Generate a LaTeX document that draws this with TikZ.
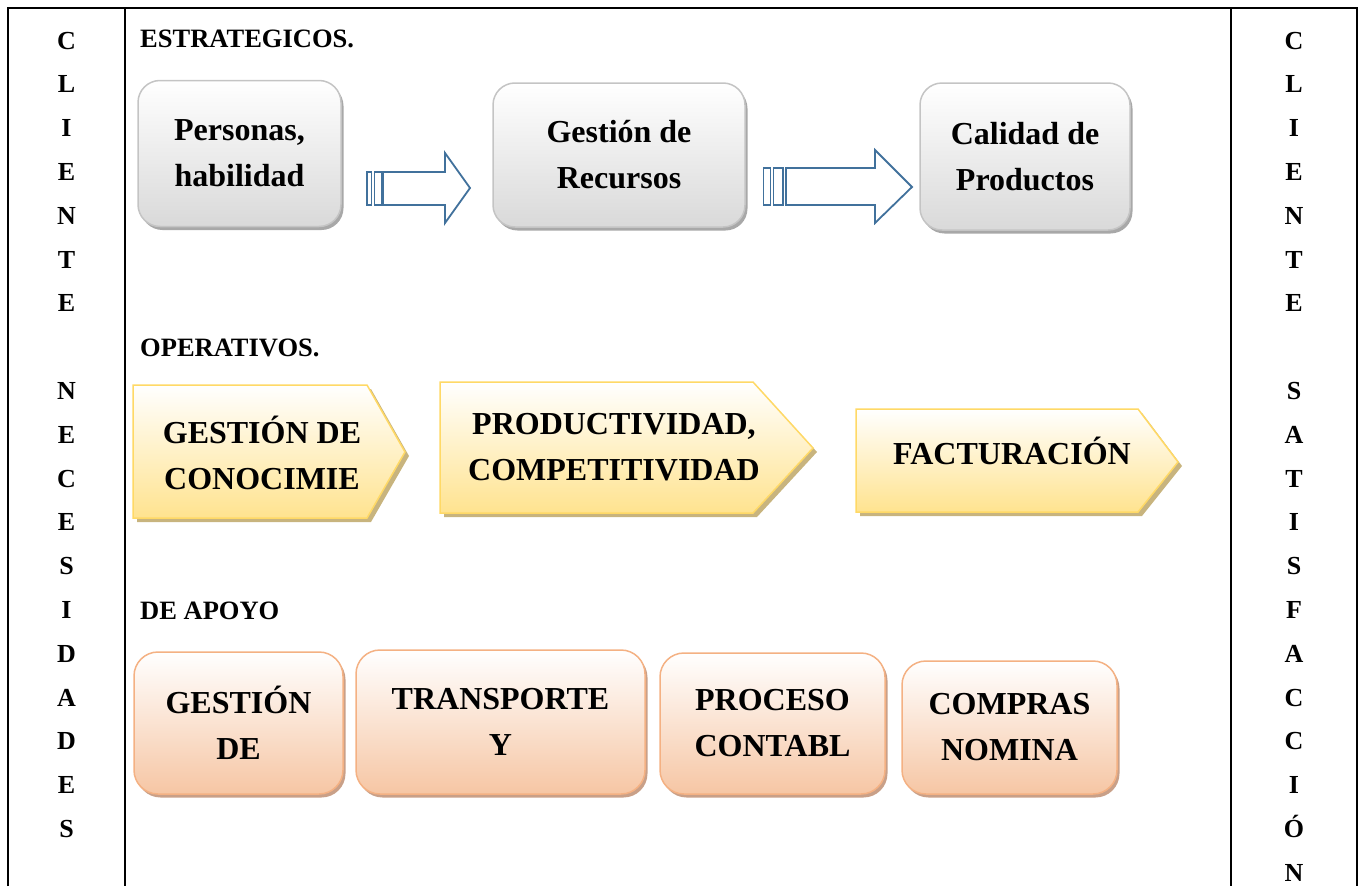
\documentclass[tikz,border=0pt]{standalone}
\usepackage{fontspec}
\setmainfont{Liberation Serif}
\usetikzlibrary{shadows}
\definecolor{grayline}{HTML}{C4C4C4}
\definecolor{graybot}{HTML}{D9D9D9}
\definecolor{grayshadow}{HTML}{A8A8A8}
\definecolor{yelline}{HTML}{FFD966}
\definecolor{yelbot}{HTML}{FFE38F}
\definecolor{yelshadow}{HTML}{C8B47E}
\definecolor{salline}{HTML}{F4B183}
\definecolor{salbot}{HTML}{F6C6A4}
\definecolor{salshadow}{HTML}{C9A088}
\definecolor{arrowblue}{HTML}{41719C}
\begin{document}
\begin{tikzpicture}[x=1pt,y=-1pt,
  gridline/.style={line width=1.6pt,black},
  heading/.style={font=\fontsize{26.5}{30}\selectfont\bfseries,anchor=base west,inner sep=0pt},
  colletter/.style={font=\fontsize{26}{30}\selectfont\bfseries,anchor=base,inner sep=0pt},
  boxtext/.style={align=center,font=\fontsize{32}{46}\selectfont\bfseries,inner sep=0pt},
  graybox/.style={boxtext,rounded corners=22pt,draw=grayline,line width=1.5pt,
    top color=white,bottom color=graybot,
    drop shadow={shadow xshift=2.5pt,shadow yshift=-3.5pt,fill=grayshadow,opacity=1}},
  salbox/.style={boxtext,rounded corners=24pt,draw=salline,line width=1.5pt,
    top color=white,bottom color=salbot,
    drop shadow={shadow xshift=2.5pt,shadow yshift=-3.5pt,fill=salshadow,opacity=1}},
  chevron/.style={draw=yelline,line width=1.5pt,top color=white,bottom color=yelbot,
    drop shadow={shadow xshift=4pt,shadow yshift=-4pt,fill=yelshadow,opacity=1}},
  blockarrow/.style={draw=arrowblue,line width=1.8pt,fill=white,line join=miter}
]
\useasboundingbox (0,0) rectangle (1365,886);
% table lines
\draw[gridline] (8,886) -- (8,8) -- (1357,8) -- (1357,886);
\draw[gridline] (125,8) -- (125,886);
\draw[gridline] (1231,8) -- (1231,886);

% column letters
\foreach \l [count=\i from 0] in {C,L,I,E,N,T,E,{},N,E,C,E,S,I,D,A,D,E,S}
  \node[colletter] (L\i) at (66.5,{49+\i*43.8}) {\l};
\foreach \l [count=\i from 0] in {C,L,I,E,N,T,E,{},S,A,T,I,S,F,A,C,C,I,Ó,N}
  \node[colletter] (R\i) at (1294,{49+\i*43.8}) {\l};

% headings
\node[heading] (h1) at (140,47) {ESTRATEGICOS.};
\node[heading] (h2) at (140,356) {OPERATIVOS.};
\node[heading] (h3) at (140,619) {DE APOYO};

% strategic boxes
\node[graybox,minimum width=203pt,minimum height=146pt] (s1) at (239.5,153.5) {Personas,\\habilidad};
\node[graybox,minimum width=252pt,minimum height=144pt] (s2) at (619,155) {Gestión de\\Recursos};
\node[graybox,minimum width=210pt,minimum height=147pt] (s3) at (1025,156.5) {Calidad de\\Productos};

% block arrows
\draw[blockarrow] (367,172) rectangle (371.5,205);
\draw[blockarrow] (374.5,172) rectangle (381.5,205);
\draw[blockarrow] (383,172) -- (445,172) -- (445,153) -- (470,188) -- (445,223) -- (445,205) -- (383,205) -- cycle;
\draw[blockarrow] (763.5,168) rectangle (770.5,205);
\draw[blockarrow] (773.5,168) rectangle (783,205);
\draw[blockarrow] (786,168) -- (875,168) -- (875,150) -- (912,187) -- (875,223) -- (875,205) -- (786,205) -- cycle;

% operative chevrons
\path[chevron] (133,385) -- (367,385) -- (405,452) -- (367,518) -- (133,518) -- cycle;
\node[boxtext] (o1) at (262,453) {GESTIÓN DE\\CONOCIMIE};
\path[chevron] (440,382) -- (753,382) -- (813,448) -- (753,513) -- (440,513) -- cycle;
\node[boxtext] (o2) at (614,447) {PRODUCTIVIDAD,\\COMPETITIVIDAD};
\path[chevron] (856,409) -- (1138,409) -- (1178,462) -- (1138,512) -- (856,512) -- cycle;
\node[boxtext,anchor=base] (o3) at (1012,464.5) {FACTURACIÓN};

% support boxes
\node[salbox,minimum width=209pt,minimum height=142pt] (a1) at (238.5,723) {GESTIÓN\\DE};
\node[salbox,minimum width=289pt,minimum height=144pt] (a2) at (500.5,722) {TRANSPORTE\\Y};
\node[salbox,minimum width=225pt,minimum height=141pt] (a3) at (772.5,723.5) {PROCESO\\CONTABL};
\node[salbox,minimum width=215pt,minimum height=133pt] (a4) at (1009.5,727.5) {COMPRAS\\NOMINA};
\end{tikzpicture}
\end{document}
